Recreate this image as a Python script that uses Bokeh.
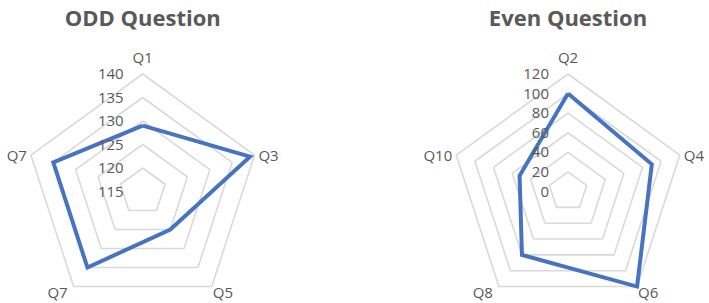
import math
from bokeh.plotting import figure
from bokeh.layouts import row
from bokeh.models import Range1d
from bokeh.embed import file_html
from bokeh.resources import INLINE
from bokeh.core.properties import value

# ---- data ----
odd_title = "ODD Question"
odd_labels = ["Q1", "Q3", "Q5", "Q7", "Q7"]
odd_values = [129, 139, 125, 135, 135]
odd_ticks = [115, 120, 125, 130, 135, 140]

even_title = "Even Question"
even_labels = ["Q2", "Q4", "Q6", "Q8", "Q10"]
even_values = [100, 90, 120, 80, 52]
even_ticks = [0, 20, 40, 60, 80, 100, 120]

# ---- style ----
W, H = 709, 303
FONT = "Open Sans"
TEXT = "#595959"
GRID = "#d9d9d9"
LINE = "#4674c1"
R = 117.5
CY = 191


def radar(title, labels, values, ticks, x0, x1, cx):
    p = figure(width=x1 - x0, height=H, x_range=Range1d(x0, x1), y_range=Range1d(H, 0),
               output_backend="svg", toolbar_location=None, min_border=0,
               outline_line_color=None)
    p.axis.visible = False
    p.grid.visible = False
    n = len(labels)
    angles = [math.pi / 2 - 2 * math.pi * i / n for i in range(n)]
    lo, hi = ticks[0], ticks[-1]

    def rad(v):
        return R * (v - lo) / (hi - lo)

    def pt(r, a):
        return cx + r * math.cos(a), CY - r * math.sin(a)

    # rings
    xs, ys = [], []
    for t in ticks[1:]:
        r = rad(t)
        pts = [pt(r, a) for a in angles]
        pts.append(pts[0])
        xs.append([q[0] for q in pts])
        ys.append([q[1] for q in pts])
    p.multi_line(xs, ys, line_color=GRID, line_width=1.6)

    # data polygon
    dpts = [pt(rad(v), a) for v, a in zip(values, angles)]
    dpts.append(dpts[0])
    p.line([q[0] for q in dpts], [q[1] for q in dpts], line_color=LINE,
           line_width=4, line_join="miter")

    # tick labels
    p.text(x=[cx - 19] * len(ticks), y=[CY - rad(t) for t in ticks],
           text=[str(t) for t in ticks], text_align="right", text_baseline="middle",
           text_font=value(FONT), text_font_size="15px", text_color=TEXT)

    # category labels
    for lab, a in zip(labels, angles):
        vx, vy = pt(R, a)
        c, s = math.cos(a), math.sin(a)
        if abs(c) < 0.1:
            x, y, al = vx, vy - 17, "center"
        elif s > -0.5:
            if c > 0:
                x, y, al = vx + 4, vy, "left"
            else:
                x, y, al = vx - 4, vy, "right"
        else:
            if c > 0:
                x, y, al = vx + 1, vy + 5, "left"
            else:
                x, y, al = vx - 6, vy + 5, "right"
        p.text(x=[x], y=[y], text=[lab], text_align=al, text_baseline="middle",
               text_font=value(FONT), text_font_size="15px", text_color=TEXT)

    # title
    p.text(x=[cx], y=[16], text=[title], text_align="center", text_baseline="middle",
           text_font=value(FONT), text_font_size="22px", text_font_style="bold",
           text_color=TEXT)
    return p


p1 = radar(odd_title, odd_labels, odd_values, odd_ticks, 0, 355, 142.2)
p2 = radar(even_title, even_labels, even_values, even_ticks, 355, 709, 567.5)
layout = row(p1, p2, spacing=0)

open("out.html", "w").write(file_html(layout, INLINE))
